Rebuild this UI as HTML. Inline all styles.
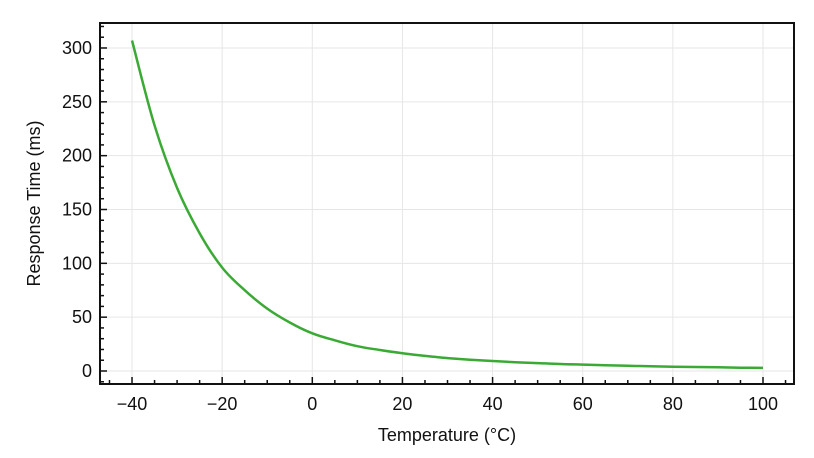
<!DOCTYPE html>
<html><head><meta charset="utf-8"><style>
body{margin:0;background:#fff;}
text{font-family:"Liberation Sans",sans-serif;fill:#111;}
</style></head><body>
<svg id="chart" width="814" height="453" xmlns="http://www.w3.org/2000/svg"></svg>
<script>
const temps=[-40,-35,-30,-25,-20,-15,-10,-5,0,5,10,15,20,25,30,35,40,45,50,55,60,65,70,75,80,85,90,95,100];
const respTimes=[307,228,170,128,96,75,58,45,35,28.5,23,19.5,16.5,14,12,10.5,9.3,8.2,7.3,6.5,5.9,5.3,4.8,4.4,4,3.7,3.4,3.1,2.9];
const xTicks=[-40,-20,0,20,40,60,80,100];
const yTicks=[0,50,100,150,200,250,300];
const L=100,R=794,T=23,B=384;
const X=v=>312.3+v*4.507;
const Y=v=>371-v*1.0767;
const svg=document.getElementById('chart');
const NS='http://www.w3.org/2000/svg';
function mk(t,a,p){const e=document.createElementNS(NS,t);for(const k in a)e.setAttribute(k,a[k]);(p||svg).appendChild(e);return e;}
const grid=mk('g',{});


xTicks.forEach(v=>mk('line',{x1:X(v),x2:X(v),y1:T,y2:B,stroke:'#e6e6e6','stroke-width':1},grid));
yTicks.forEach(v=>mk('line',{x1:L,x2:R,y1:Y(v),y2:Y(v),stroke:'#e6e6e6','stroke-width':1},grid));
const ax=mk('g',{});


for(let v=-45;v<=105;v+=5){const x=X(v);if(x<L||x>R)continue;const major=v%20===0;mk('line',{x1:x,x2:x,y1:B,y2:B-(major?7:4),stroke:'#111','stroke-width':1.5},ax);}
for(let v=-10;v<=320;v+=10){const y=Y(v);if(y<T||y>B)continue;const major=v%50===0;mk('line',{x1:L,x2:L+(major?7:4),y1:y,y2:y,stroke:'#111','stroke-width':1.5},ax);}
xTicks.forEach(v=>{const t=mk('text',{x:X(v),y:B+26,'text-anchor':'middle','font-size':18},ax);t.textContent=(v<0?'\u2212'+(-v):v);});
yTicks.forEach(v=>{const t=mk('text',{x:L-8,y:Y(v)+6,'text-anchor':'end','font-size':18},ax);t.textContent=v;});
mk('rect',{x:L,y:T,width:R-L,height:B-T,fill:'none',stroke:'#111','stroke-width':2},ax);
const xt=mk('text',{x:(L+R)/2,y:441,'text-anchor':'middle','font-size':18});
xt.textContent='Temperature (°C)';


const yt=mk('text',{x:0,y:0,'text-anchor':'middle','font-size':18,transform:'translate(40,'+((T+B)/2)+') rotate(-90)'});
yt.textContent='Response Time (ms)';


const pts=temps.map((t,i)=>[X(t),Y(respTimes[i])]);
let d='M'+pts[0][0].toFixed(1)+','+pts[0][1].toFixed(1);
for(let i=0;i<pts.length-1;i++){
  const p0=pts[Math.max(0,i-1)],p1=pts[i],p2=pts[i+1],p3=pts[Math.min(pts.length-1,i+2)];
  const c1=[p1[0]+(p2[0]-p0[0])/6,p1[1]+(p2[1]-p0[1])/6];
  const c2=[p2[0]-(p3[0]-p1[0])/6,p2[1]-(p3[1]-p1[1])/6];
  d+='C'+c1[0].toFixed(1)+','+c1[1].toFixed(1)+' '+c2[0].toFixed(1)+','+c2[1].toFixed(1)+' '+p2[0].toFixed(1)+','+p2[1].toFixed(1);
}
const line=mk('path',{d:d,fill:'none',stroke:'#3aaa35','stroke-width':2.5,'stroke-linejoin':'round'});


</script>
</body></html>
